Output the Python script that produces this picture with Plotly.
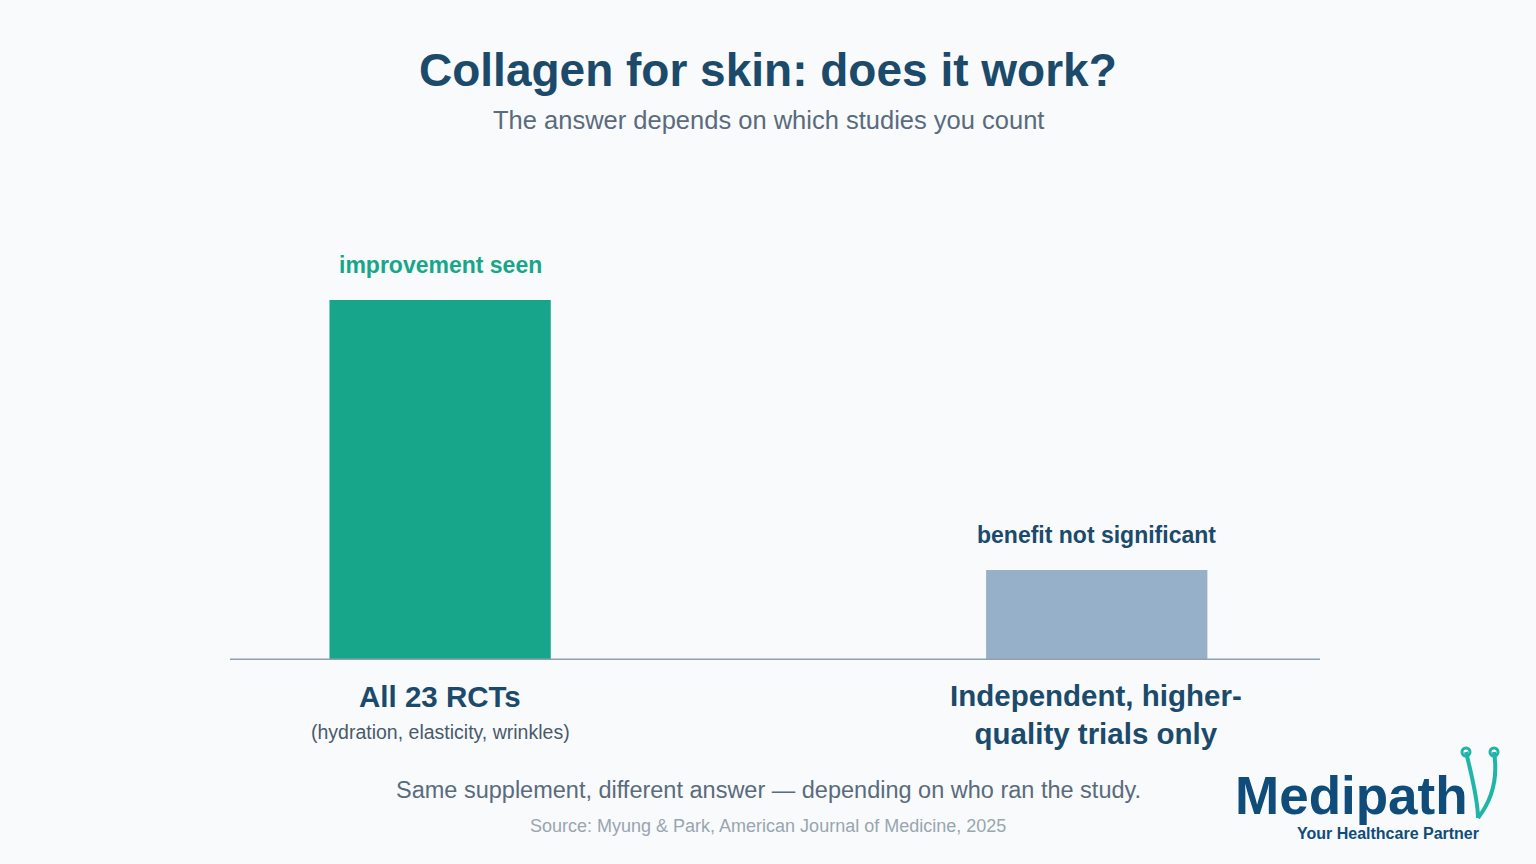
import plotly.graph_objects as go

categories = ["All 23 RCTs", "Independent, higher-quality trials only"]
values = [1.0, 0.25]
bar_labels = ["improvement seen", "benefit not significant"]
colors = ["#17a689", "#97b0c9"]
label_colors = ["#17a689", "#1b4a6b"]
FONT = "Liberation Sans"

fig = go.Figure()
fig.add_trace(go.Bar(x=[0, 1], y=values, width=0.337, marker_color=colors,
                     marker_line_width=0, hoverinfo="skip"))
W, H = 1536, 864
fig.update_layout(
    width=W, height=H, paper_bgcolor="#f8fafc", plot_bgcolor="#f8fafc",
    margin=dict(l=230, r=216, t=228, b=204), showlegend=False,
    font=dict(family=FONT),
    xaxis=dict(range=[-0.32, 1.34], showticklabels=False, showgrid=False, zeroline=False,
               showline=False),
    yaxis=dict(range=[0, 1.2], visible=False),
    shapes=[dict(type="line", xref="paper", yref="y", x0=0, x1=1, y0=0, y1=0,
                 line=dict(color="#8fa0b0", width=3))],
)
annotations = []
for i, (v, t, c) in enumerate(zip(values, bar_labels, label_colors)):
    annotations.append(dict(x=i, y=v, xref="x", yref="y", text=f"<b>{t}</b>", showarrow=False,
                            yanchor="middle", yshift=35, font=dict(size=23, color=c, family=FONT)))
ann = [
    dict(text="<b>Collagen for skin: does it work?</b>", x=768, y=70, size=46, color="#1b4a6b"),
    dict(text="The answer depends on which studies you count", x=768, y=120, size=25.5, color="#5a6b7c"),
    dict(text="<b>All 23 RCTs</b>", x=440, y=696, size=29.5, color="#1b4a6b"),
    dict(text="(hydration, elasticity, wrinkles)", x=440, y=732, size=19.5, color="#4a5a6a"),
    dict(text="<b>Independent, higher-<br>quality trials only</b>", x=1096, y=714, size=29.5, color="#1b4a6b"),
    dict(text="Same supplement, different answer — depending on who ran the study.", x=768, y=790, size=23.5, color="#5a6b7c"),
    dict(text="Source: Myung & Park, American Journal of Medicine, 2025", x=768, y=826, size=18, color="#9aa5b0"),
    dict(text="<b>Medipath</b>", x=1351, y=795, size=53, color="#0f4c7a"),
    dict(text="<b>Your Healthcare Partner</b>", x=1388, y=833, size=16, color="#0f4c7a"),
]
for a in ann:
    annotations.append(dict(text=a["text"], xref="paper", yref="paper",
                            x=(a["x"] - 230) / (W - 230 - 216),
                            y=(660 - a["y"]) / (660 - 228),
                            showarrow=False, xanchor="center", yanchor="middle",
                            font=dict(size=a["size"], color=a["color"], family=FONT)))
fig.update_layout(annotations=annotations)

def px(x, y):
    return f"{(x-230)/1090} {(660-y)/432}"
fig.add_shape(type="path", xref="paper", yref="paper",
              path=f"M {px(1466,752)} Q {px(1478,800)} {px(1478,818)} M {px(1494,752)} Q {px(1500,790)} {px(1478,818)}",
              line=dict(color="#1fb5a8", width=4))
fig.add_shape(type="circle", xref="paper", yref="paper",
              x0=(1462-230)/1090, x1=(1470-230)/1090, y0=(660-756)/432, y1=(660-748)/432,
              line=dict(color="#1fb5a8", width=3))
fig.add_shape(type="circle", xref="paper", yref="paper",
              x0=(1490-230)/1090, x1=(1498-230)/1090, y0=(660-756)/432, y1=(660-748)/432,
              line=dict(color="#1fb5a8", width=3))
fig.write_html("out.html", config={"displayModeBar": False},
               post_script="document.body.style.margin='0';document.body.style.overflow='hidden';")
